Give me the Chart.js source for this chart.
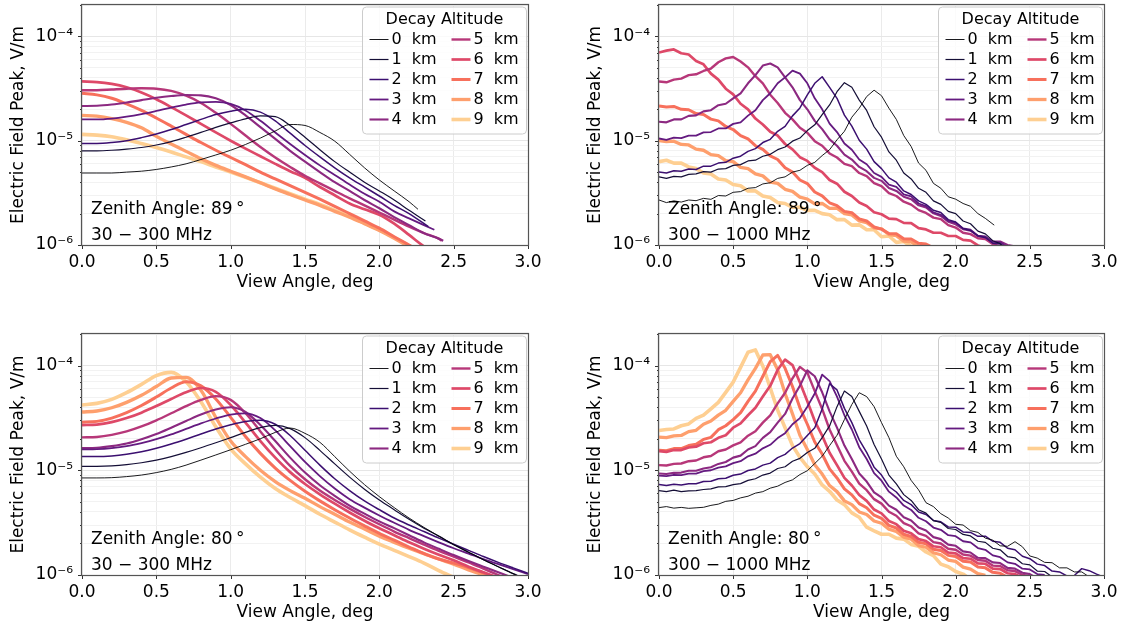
<!DOCTYPE html>
<html>
<head>
<meta charset="utf-8">
<script src="https://cdn.jsdelivr.net/npm/chart.js@4/dist/chart.umd.min.js"></script>
<style>
  body { margin: 0; background: #fff; }
  #wrap { position: relative; width: 1128px; height: 630px; }
  canvas { position: absolute; }
</style>
</head>
<body>
<div id="wrap">
  <canvas id="p89lo" width="564" height="300" style="left:0;top:0"></canvas>
  <canvas id="p89hi" width="551" height="300" style="left:577px;top:0"></canvas>
  <canvas id="p80lo" width="564" height="315" style="left:0;top:315px"></canvas>
  <canvas id="p80hi" width="551" height="315" style="left:577px;top:315px"></canvas>
</div>
<script>
// decay altitudes (km), one line each
var altitudes = [0, 1, 2, 3, 4, 5, 6, 7, 8, 9];

// view angle grids (deg)
var viewLow = [0, 0.1, 0.2, 0.3, 0.4, 0.5, 0.6, 0.7, 0.8, 0.9, 1.0, 1.1, 1.2, 1.3, 1.4, 1.5, 1.6, 1.7, 1.8, 1.9,
    2.0, 2.1, 2.2, 2.3, 2.4, 2.5, 2.6, 2.7, 2.8, 2.9, 3.0];
var viewHigh = [0, 0.05, 0.1, 0.15, 0.2, 0.25, 0.3, 0.35, 0.4, 0.45, 0.5, 0.55, 0.6, 0.65, 0.7, 0.75, 0.8, 0.85, 0.9, 0.95,
    1.0, 1.05, 1.1, 1.15, 1.2, 1.25, 1.3, 1.35, 1.4, 1.45, 1.5, 1.55, 1.6, 1.65, 1.7, 1.75, 1.8, 1.85, 1.9, 1.95,
    2.0, 2.05, 2.1, 2.15, 2.2, 2.25, 2.3, 2.35, 2.4, 2.45, 2.5, 2.55, 2.6, 2.65, 2.7, 2.75, 2.8, 2.85, 2.9, 2.95, 3.0];

// peak field, in units of 1e-6 V/m, one row per altitude
var z89Low = [
    [4.9, 4.9, 4.9, 5.0, 5.1, 5.3, 5.6, 6.0, 6.6, 7.3, 8.1, 9.2, 10.6, 12.4, 14.3, 14.0, 12.0, 9.9, 7.4, 5.5, 4.2, 3.3, 2.6, 2.2],
    [8.0, 8.0, 8.1, 8.3, 8.6, 9.1, 9.8, 10.8, 12.0, 13.4, 14.8, 16.2, 17.3, 17.0, 14.0, 10.8, 8.2, 6.3, 5.0, 4.0, 3.3, 2.7, 2.15, 1.7],
    [9.4, 9.4, 9.6, 10.0, 10.7, 11.6, 12.8, 14.3, 16.0, 17.8, 19.2, 20.0, 18.8, 15.5, 11.8, 9.0, 7.0, 5.5, 4.4, 3.6, 2.95, 2.4, 2.0, 1.5],
    [16.0, 16.0, 16.3, 17.0, 18.0, 19.3, 20.8, 22.2, 23.3, 23.6, 22.5, 19.5, 15.5, 12.0, 9.3, 7.3, 5.8, 4.7, 3.8, 3.1, 2.6, 2.1, 1.8, 1.55, 1.4],
    [21.5, 21.6, 22.2, 23.2, 24.5, 25.8, 26.8, 27.4, 27.2, 25.5, 22.0, 17.5, 13.5, 10.4, 8.0, 6.3, 5.0, 4.0, 3.3, 2.7, 2.25, 1.85, 1.55, 1.3, 1.15, 1.1],
    [30.5, 30.5, 31, 31.5, 31.8, 31.5, 30, 27, 23, 18.5, 14.5, 11.2, 8.7, 6.9, 5.6, 4.6, 3.9, 3.3, 2.8, 2.4, 2.05, 1.75, 1.5, 1.3, 1.15, 1.1],
    [37, 36.5, 35, 32.5, 29, 25, 21, 17.5, 14.5, 12.0, 10.0, 8.4, 7.1, 6.0, 5.1, 4.4, 3.6, 3.0, 2.5, 2.2, 1.95, 1.6, 1.25, 0.97, 0.8],
    [28.5, 27.5, 25.5, 22.5, 19.5, 16.5, 13.8, 11.5, 9.6, 8.1, 6.9, 5.9, 5.0, 4.3, 3.7, 3.2, 2.75, 2.35, 2.0, 1.7, 1.45, 1.2, 1.0, 0.82],
    [17.5, 17.2, 16.3, 15.0, 13.3, 11.0, 9.3, 7.9, 6.7, 5.8, 5.1, 4.5, 3.95, 3.45, 3.05, 2.7, 2.4, 2.1, 1.85, 1.6, 1.38, 1.16, 0.96, 0.8],
    [11.5, 11.3, 10.9, 10.2, 9.4, 8.6, 7.8, 7.0, 6.3, 5.6, 5.0, 4.45, 3.95, 3.5, 3.1, 2.75, 2.45, 2.15, 1.88, 1.62, 1.4, 1.18, 0.98, 0.8]
];
// last view angle of the lines that stop above the axis
var z89LowEnds = [2.26, 2.31, 2.33, 2.37, 2.43, 2.42, null, null, null, null];

var z89High = [
    [2.7, 2.55, 2.65, 2.58, 2.7, 2.66, 2.8, 2.74, 2.98, 2.95, 3.2, 3.25, 3.5, 3.55, 3.85, 3.95, 4.35, 4.5, 5.0, 5.2,
     5.8, 6.2, 7.2, 8.2, 10.2, 12.3, 16.8, 20.5, 26.5, 30.5, 27, 20.5, 16, 11.2, 8.8, 6.1, 5.2, 3.9, 3.5, 2.9,
     2.75, 2.5, 2.35, 2.0, 1.8, 1.55],
    [4.5, 4.35, 4.55, 4.5, 4.75, 4.8, 5.05, 5.0, 5.35, 5.4, 5.8, 5.9, 6.4, 6.5, 7.1, 7.4, 8.2, 8.7, 9.9, 10.6,
     12.5, 14.2, 17.8, 22, 29.5, 36, 32.5, 24.5, 19.5, 13.6, 10.8, 7.8, 6.5, 4.9, 4.3, 3.5, 3.2, 2.65, 2.45, 2.1,
     2.0, 1.7, 1.6, 1.36, 1.28, 1.1, 1.03, 0.88],
    [5.0, 4.9, 5.15, 5.1, 5.35, 5.3, 5.7, 5.7, 6.1, 6.2, 6.8, 7.1, 7.9, 8.4, 9.6, 10.3, 12.3, 13.7, 17.3, 20.6,
     27.5, 35.5, 41, 32.5, 25.5, 17.6, 13.8, 10.1, 8.3, 6.3, 5.4, 4.4, 4.0, 3.3, 3.05, 2.65, 2.45, 2.15, 2.05, 1.75,
     1.66, 1.44, 1.38, 1.22, 1.18, 1.04, 1.02, 0.91],
    [10.5, 10.2, 10.7, 10.6, 11.2, 11.2, 12, 12.1, 13.1, 13.1, 14.5, 15, 17.4, 19.6, 24.5, 28.5, 35.5, 40.5, 47, 44,
     35.5, 25.5, 20, 14.6, 12.1, 9.4, 8.2, 6.6, 5.95, 4.9, 4.5, 3.8, 3.6, 3.05, 2.92, 2.5, 2.36, 2.05, 1.95, 1.7,
     1.64, 1.44, 1.4, 1.23, 1.21, 1.07, 1.06, 0.95],
    [15.2, 15.0, 16.0, 16.0, 17.3, 17.5, 19.1, 19.6, 21.9, 22.6, 25.5, 28.5, 35.5, 42.5, 52.5, 55, 50.5, 40.5, 32.5, 24.5,
     20, 15.5, 12.9, 10.3, 8.95, 7.35, 6.6, 5.6, 5.1, 4.4, 4.12, 3.52, 3.3, 2.9, 2.75, 2.4, 2.29, 2.01, 1.9, 1.67,
     1.58, 1.42, 1.37, 1.22, 1.18, 1.08, 1.08, 1.0, 0.97],
    [37, 36.3, 38.5, 39.4, 42.5, 43.3, 46.6, 49.2, 56.5, 61.5, 63.5, 57.5, 50.5, 41.5, 35.5, 27.6, 23, 18.5, 16, 13.3,
     11.9, 9.9, 8.95, 7.55, 6.9, 6.0, 5.7, 4.9, 4.58, 3.92, 3.66, 3.14, 2.95, 2.6, 2.44, 2.16, 2.03, 1.83, 1.77, 1.55,
     1.47, 1.31, 1.27, 1.16, 1.14, 1.02, 0.97],
    [70, 73, 75, 69, 67, 58, 54, 44, 38.5, 31.5, 27.8, 22.6, 20, 16.3, 14.3, 12.2, 11.2, 9.3, 8.25, 6.95,
     6.4, 5.5, 5.0, 4.2, 3.87, 3.24, 2.95, 2.55, 2.37, 2.06, 1.97, 1.79, 1.77, 1.63, 1.62, 1.45, 1.41, 1.31, 1.31, 1.22,
     1.22, 1.12, 1.1, 0.99, 0.94],
    [21.5, 21, 21.3, 20, 19.8, 18.2, 17.8, 16.1, 15.5, 13.7, 12.8, 11.2, 10.4, 8.95, 8.25, 7.15, 6.6, 5.5, 5.0, 4.2,
     3.88, 3.22, 2.96, 2.54, 2.38, 2.1, 2.04, 1.78, 1.7, 1.49, 1.42, 1.29, 1.28, 1.15, 1.14, 1.04, 1.02, 0.94],
    [10, 9.8, 9.9, 9.2, 9.1, 8.3, 8.1, 7.35, 7.2, 6.45, 6.3, 5.55, 5.4, 4.8, 4.6, 4.0, 3.9, 3.42, 3.27, 2.88,
     2.76, 2.48, 2.5, 2.24, 2.25, 2.0, 1.94, 1.7, 1.64, 1.46, 1.43, 1.26, 1.23, 1.09, 1.07, 0.97, 0.96],
    [6.3, 6.5, 6.1, 6.1, 5.6, 5.4, 4.9, 4.8, 4.3, 4.2, 3.8, 3.7, 3.3, 3.3, 2.95, 2.85, 2.55, 2.5, 2.3, 2.3,
     2.15, 2.15, 2.0, 1.95, 1.75, 1.75, 1.55, 1.56, 1.4, 1.4, 1.2, 1.22, 1.06, 1.08, 0.97, 0.97]
];
var z89HighEnds = [2.26, null, null, null, null, null, null, null, null, null];

var z80Low = [
    [8.45, 8.45, 8.5, 8.7, 9.0, 9.5, 10.2, 11.2, 12.5, 14.0, 15.7, 17.7, 20.0, 23.0, 25.3, 22.5, 18.5, 13.5, 9.8, 7.3,
     5.6, 4.4, 3.5, 2.85, 2.35, 1.95, 1.65, 1.4, 1.2, 1.03, 0.88],
    [10.9, 10.9, 11.0, 11.3, 11.8, 12.5, 13.5, 14.8, 16.4, 18.3, 20.5, 23, 25.5, 26.8, 25, 20.5, 15.5, 11.5, 8.6, 6.6,
     5.2, 4.2, 3.4, 2.8, 2.35, 1.95, 1.65, 1.4, 1.2, 1.03, 0.9],
    [13.5, 13.5, 13.7, 14.2, 15.0, 16.2, 17.8, 19.8, 22.2, 24.8, 27.2, 29.2, 30, 27.5, 21.5, 15.5, 11.2, 8.3, 6.4, 5.1,
     4.2, 3.5, 3.0, 2.6, 2.25, 1.97, 1.72, 1.5, 1.32, 1.17, 1.04],
    [15.8, 15.9, 16.3, 17.0, 18.2, 19.8, 22, 24.8, 28, 31.2, 34, 35, 31.5, 24, 17, 12, 8.8, 6.7, 5.3, 4.4,
     3.7, 3.15, 2.7, 2.35, 2.05, 1.8, 1.6, 1.42, 1.27, 1.14, 1.02],
    [16.3, 16.4, 17.0, 18.0, 19.8, 22.2, 25.5, 29.5, 34, 38, 40, 36, 27, 19, 13.2, 9.5, 7.2, 5.7, 4.6, 3.85,
     3.25, 2.8, 2.4, 2.05, 1.78, 1.55, 1.36, 1.2, 1.06, 0.94],
    [20.6, 20.8, 21.8, 23.5, 26.2, 30, 35, 41, 47, 51, 47, 35, 23.5, 15.8, 11, 8.2, 6.4, 5.2, 4.3, 3.6,
     3.05, 2.6, 2.25, 1.95, 1.7, 1.5, 1.32, 1.15, 1.0, 0.88],
    [27, 27.3, 28.8, 31.5, 35.5, 41, 48, 55.5, 61, 56, 42, 28.5, 19, 13.2, 9.6, 7.4, 5.9, 4.8, 3.95, 3.3,
     2.8, 2.4, 2.05, 1.78, 1.56, 1.38, 1.2, 1.06, 0.94],
    [28.8, 29.3, 31.5, 35.5, 41.5, 50, 61, 70, 64, 48, 32, 21, 14.5, 10.5, 8.0, 6.3, 5.1, 4.2, 3.5, 2.95,
     2.5, 2.15, 1.85, 1.6, 1.42, 1.3, 1.18, 1.05, 0.93],
    [36, 36.8, 39.5, 44.5, 52, 63, 76, 77, 58, 32, 19, 13.5, 10, 7.8, 6.4, 5.4, 4.5, 3.8, 3.2, 2.75,
     2.35, 2.05, 1.8, 1.6, 1.42, 1.27, 1.12, 1.0, 0.88],
    [42, 43.5, 47.5, 55, 66, 80, 86, 70, 45, 26, 16, 11.5, 8.6, 6.7, 5.5, 4.6, 3.8, 3.2, 2.7, 2.3,
     1.97, 1.72, 1.5, 1.3, 1.1, 0.95]
];

var z80High = [
    [4.4, 4.5, 4.35, 4.42, 4.33, 4.38, 4.43, 4.62, 4.75, 5.05, 5.15, 5.45, 5.65, 6.05, 6.25, 6.75, 7.05, 7.65, 8.1, 9.1,
     9.9, 11.6, 13.6, 17.2, 21.6, 30.5, 42.5, 55, 50.5, 40.5, 28.5, 20.5, 13.6, 10.8, 8.0, 6.5, 4.9, 4.5, 3.85, 3.5,
     3.05, 3.0, 2.65, 2.55, 2.25, 2.15, 1.9, 1.88, 2.08, 1.86, 1.52, 1.45, 1.32, 1.31, 1.17, 1.17, 1.07, 1.07, 0.96, 0.93],
    [6.4, 6.25, 6.45, 6.25, 6.35, 6.38, 6.55, 6.65, 6.95, 6.98, 7.3, 7.45, 8.0, 8.3, 9.0, 9.4, 10.4, 10.8, 12.2, 13.0,
     14.8, 16.2, 20.5, 26.5, 40.5, 57, 50.5, 36.5, 26.5, 17.6, 12.8, 9.0, 7.4, 5.85, 5.15, 4.2, 3.9, 3.3, 3.18, 2.78,
     2.72, 2.44, 2.36, 2.1, 2.05, 1.8, 1.74, 1.5, 1.46, 1.28, 1.25, 1.09, 1.08, 0.96],
    [7.3, 7.15, 7.35, 7.25, 7.45, 7.45, 7.8, 7.85, 8.3, 8.4, 8.95, 9.2, 9.95, 10.3, 11.2, 11.7, 13.2, 14.2, 16.3, 18,
     21.5, 25.5, 38.5, 67, 58.5, 39, 28.5, 19.5, 14.8, 10.7, 9.0, 7.0, 6.2, 5.15, 4.7, 4.0, 3.78, 3.32, 3.22, 2.88,
     2.86, 2.58, 2.55, 2.34, 2.35, 2.1, 2.05, 1.8, 1.74, 1.51, 1.43, 1.27, 1.23, 1.09, 1.07, 0.98, 0.99, 1.15, 1.1, 1.02, 0.95],
    [8.9, 8.8, 9.05, 9.0, 9.3, 9.3, 9.8, 10.0, 10.6, 10.9, 11.7, 12.2, 13.6, 14.4, 16.2, 17.5, 20.3, 22.6, 27.5, 31.5,
     40.5, 54, 82, 71, 50.5, 33.5, 24.5, 16.6, 12.8, 9.4, 7.95, 6.25, 5.5, 4.6, 4.18, 3.52, 3.26, 2.84, 2.7, 2.4,
     2.35, 2.1, 2.05, 1.81, 1.74, 1.54, 1.48, 1.32, 1.28, 1.15, 1.13, 1.02, 1.0],
    [9.3, 9.2, 9.45, 9.5, 9.9, 9.9, 10.4, 10.7, 11.5, 12.0, 13.2, 13.8, 15.8, 17.0, 20.4, 23.1, 28.5, 34.5, 48.5, 64,
     90, 79, 55.5, 36.5, 25.5, 17.2, 12.8, 9.3, 7.8, 6.15, 5.5, 4.6, 4.2, 3.56, 3.32, 2.84, 2.66, 2.3, 2.2, 1.95,
     1.9, 1.68, 1.64, 1.46, 1.45, 1.32, 1.3, 1.17, 1.15, 1.05, 1.02, 0.93],
    [11.2, 11.1, 11.5, 11.6, 12.2, 12.4, 13.3, 13.7, 15.2, 15.8, 17.3, 18.5, 21.4, 23.6, 28.5, 33.5, 43.5, 55, 75.5, 97,
     85.5, 57, 38.5, 24.5, 17.3, 12.3, 9.7, 7.45, 6.45, 5.3, 4.8, 4.02, 3.68, 3.13, 2.92, 2.5, 2.36, 2.06, 2.0, 1.78,
     1.74, 1.57, 1.53, 1.39, 1.37, 1.23, 1.22, 1.11, 1.09, 1.0, 0.98],
    [15.2, 15.0, 15.6, 15.6, 16.5, 16.8, 18.1, 18.5, 20.4, 21.6, 25.5, 28, 33.5, 39.5, 50.5, 64, 91, 114, 101, 69,
     45.5, 29.5, 21.4, 14.7, 11.2, 8.45, 7.15, 5.8, 5.1, 4.22, 3.88, 3.28, 3.06, 2.64, 2.5, 2.2, 2.11, 1.88, 1.84, 1.64,
     1.61, 1.45, 1.43, 1.29, 1.28, 1.15, 1.14, 1.04, 1.02, 0.94],
    [15.5, 15.4, 16.1, 16.1, 17.2, 17.7, 19.7, 20.6, 24.4, 26.6, 30.5, 35.5, 45.5, 57, 79, 109, 125, 94, 63, 39.5,
     27.5, 18.6, 14.3, 10.3, 8.45, 6.65, 5.82, 4.8, 4.38, 3.72, 3.47, 2.98, 2.81, 2.45, 2.33, 2.05, 1.99, 1.76, 1.71, 1.54,
     1.5, 1.35, 1.33, 1.19, 1.17, 1.06, 1.04, 0.95],
    [20.7, 20.5, 21.3, 21.5, 23.4, 24.1, 27.5, 29.5, 33.6, 37.4, 45.5, 55, 73, 94, 126, 127, 91, 54, 34.5, 21.6,
     15.8, 11.3, 9.2, 7.15, 6.25, 5.1, 4.7, 4.0, 3.78, 3.28, 3.12, 2.74, 2.6, 2.3, 2.2, 1.91, 1.84, 1.63, 1.56, 1.39,
     1.35, 1.19, 1.14, 1.03, 0.99],
    [24, 24.5, 24.8, 26.6, 27.7, 31.3, 33.6, 38.5, 44.5, 55.5, 69.5, 96, 134, 141, 99, 61, 37.5, 25.5, 17.2, 13.3,
     10.8, 9.2, 7.25, 6.3, 5.2, 4.7, 3.92, 3.56, 2.86, 2.64, 2.45, 2.45, 2.25, 2.2, 1.96, 1.88, 1.66, 1.53, 1.27, 1.2,
     1.08, 1.02, 0.91]
];

// axis ticks
var xTickValues = [0, 0.5, 1.0, 1.5, 2.0, 2.5, 3.0];
var yTickValues = [1e-6, 2e-6, 3e-6, 4e-6, 5e-6, 6e-6, 7e-6, 8e-6, 9e-6,
    1e-5, 2e-5, 3e-5, 4e-5, 5e-5, 6e-5, 7e-5, 8e-5, 9e-5, 1e-4, 2e-4];
var yTickLabels = {'-6': '10\u207b\u2076', '-5': '10\u207b\u2075', '-4': '10\u207b\u2074'};

// magma colours and widths for the 10 altitudes
var lineColors = ['#000004', '#140e36', '#3b0f70', '#641a80', '#8c2981',
    '#b73779', '#de4968', '#f7705c', '#fe9f6d', '#fecf92'];
var lineWidths = [0.9, 1.2, 1.5, 1.8, 2.1, 2.4, 2.7, 3.0, 3.3, 3.6];

Chart.defaults.font.family = 'DejaVu Sans';
Chart.defaults.color = '#000';

function isDecade(v) {
    var l = Math.log10(v);
    return Math.abs(l - Math.round(l)) < 1e-6;
}

function makeDatasets(xs, rows, ends, smooth) {
    return rows.map(function (vals, i) {
        return {
            label: altitudes[i] + '  km',
            data: vals.map(function (v, j) {
                var x = xs[j];
                if (ends && ends[i] != null && j === vals.length - 1) x = ends[i];
                return {x: x, y: v * 1e-6};
            }),
            borderColor: lineColors[i],
            borderWidth: lineWidths[i],
            pointRadius: 0,
            fill: false,
            tension: 0,
            cubicInterpolationMode: smooth ? 'monotone' : 'default',
            borderJoinStyle: 'round',
            clip: 0
        };
    });
}

// frame, tick marks, annotation and 2-column legend
var decor = {
    id: 'decor',
    afterDatasetsDraw: function (chart) {
        var ctx = chart.ctx, a = chart.chartArea, x = chart.scales.x, y = chart.scales.y;
        ctx.save();
        ctx.strokeStyle = '#333';
        ctx.lineWidth = 1;
        ctx.beginPath();
        xTickValues.forEach(function (v) {
            var px = Math.round(x.getPixelForValue(v)) + 0.5;
            ctx.moveTo(px, a.bottom);
            ctx.lineTo(px, a.bottom + 4);
        });
        yTickValues.forEach(function (v) {
            var py = Math.round(y.getPixelForValue(v)) + 0.5;
            ctx.moveTo(a.left, py);
            ctx.lineTo(a.left - (isDecade(v) ? 4 : 2), py);
        });
        ctx.stroke();
        ctx.strokeStyle = '#555';
        ctx.lineWidth = 1.2;
        ctx.strokeRect(a.left - 0.5, a.top - 0.5, a.right - a.left + 1, a.bottom - a.top + 1);
        ctx.restore();
    },
    afterDraw: function (chart, args, opts) {
        var ctx = chart.ctx, a = chart.chartArea;
        ctx.save();
        ctx.fillStyle = '#000';
        ctx.font = '17px "DejaVu Sans"';
        ctx.textBaseline = 'middle';
        ctx.textAlign = 'left';
        ctx.fillText('Zenith Angle: ' + opts.zenith + '\u2009\u00b0', a.left + 9, a.bottom - 35);
        ctx.fillText(opts.band, a.left + 9, a.bottom - 9);

        // legend box
        var w = 164, h = 127;
        var bx = a.right - 1.5 - w, by = a.top + 2;
        ctx.beginPath();
        ctx.roundRect(bx, by, w, h, 4);
        ctx.fillStyle = 'rgba(255,255,255,0.8)';
        ctx.fill();
        ctx.strokeStyle = '#cccccc';
        ctx.lineWidth = 1;
        ctx.stroke();

        ctx.fillStyle = '#000';
        ctx.font = '16px "DejaVu Sans"';
        ctx.textAlign = 'center';
        ctx.fillText('Decay Altitude', bx + w / 2, by + 12.5);
        ctx.textAlign = 'left';
        chart.data.datasets.forEach(function (ds, i) {
            var col = Math.floor(i / 5), row = i % 5;
            var lx = bx + (col ? 89 : 7), ty = by + 32.5 + row * 20;
            ctx.beginPath();
            ctx.moveTo(lx, ty);
            ctx.lineTo(lx + 19, ty);
            ctx.strokeStyle = ds.borderColor;
            ctx.lineWidth = ds.borderWidth;
            ctx.stroke();
            ctx.fillText(ds.label, lx + 22, ty);
        });
        ctx.restore();
    }
};

function makePanel(id, xs, rows, ends, smooth, zenith, band, padTop, padRight) {
    var ctx = document.getElementById(id).getContext('2d');
    return new Chart(ctx, {
        type: 'line',
        data: {datasets: makeDatasets(xs, rows, ends, smooth)},
        options: {
            responsive: false,
            animation: false,
            devicePixelRatio: 1,
            events: [],
            layout: {padding: {top: padTop, right: padRight, left: 0, bottom: 0}},
            plugins: {
                legend: {display: false},
                tooltip: {enabled: false},
                decor: {zenith: zenith, band: band}
            },
            scales: {
                x: {
                    type: 'linear',
                    min: 0,
                    max: 3,
                    afterFit: function (axis) {
                        axis.height = 55;
                        axis.paddingLeft = 0;
                        axis.paddingRight = 0;
                    },
                    grid: {drawTicks: false, color: '#ebebeb'},
                    border: {display: false},
                    ticks: {
                        stepSize: 0.5,
                        padding: 7,
                        maxRotation: 0,
                        autoSkip: false,
                        font: {size: 17},
                        callback: function (v) { return v.toFixed(1); }
                    },
                    title: {
                        display: true,
                        text: 'View Angle, deg',
                        font: {size: 17},
                        padding: {top: 0, bottom: 7}
                    }
                },
                y: {
                    type: 'logarithmic',
                    min: 1e-6,
                    max: 2e-4,
                    afterFit: function (axis) {
                        axis.width = 82;
                        axis.paddingTop = 0;
                        axis.paddingBottom = 0;
                    },
                    afterBuildTicks: function (axis) {
                        axis.ticks = yTickValues.map(function (v) { return {value: v}; });
                    },
                    grid: {
                        drawTicks: false,
                        color: function (c) {
                            return c.tick && isDecade(c.tick.value) ? '#e6e6e6' : '#f2f2f2';
                        }
                    },
                    border: {display: false},
                    ticks: {
                        autoSkip: false,
                        padding: 9,
                        font: {size: 17},
                        callback: function (v) {
                            return isDecade(v) ? yTickLabels[String(Math.round(Math.log10(v)))] : '';
                        }
                    },
                    title: {
                        display: true,
                        text: 'Electric Field Peak, V/m',
                        font: {size: 17},
                        padding: {top: 8, bottom: 0}
                    }
                }
            }
        },
        plugins: [decor]
    });
}

makePanel('p89lo', viewLow, z89Low, z89LowEnds, true, '89', '30 \u2212 300 MHz', 5, 36);
makePanel('p89hi', viewHigh, z89High, z89HighEnds, false, '89', '300 \u2212 1000 MHz', 5, 24);
makePanel('p80lo', viewLow, z80Low, null, true, '80', '30 \u2212 300 MHz', 19, 36);
makePanel('p80hi', viewHigh, z80High, null, false, '80', '300 \u2212 1000 MHz', 19, 24);
</script>
</body>
</html>
